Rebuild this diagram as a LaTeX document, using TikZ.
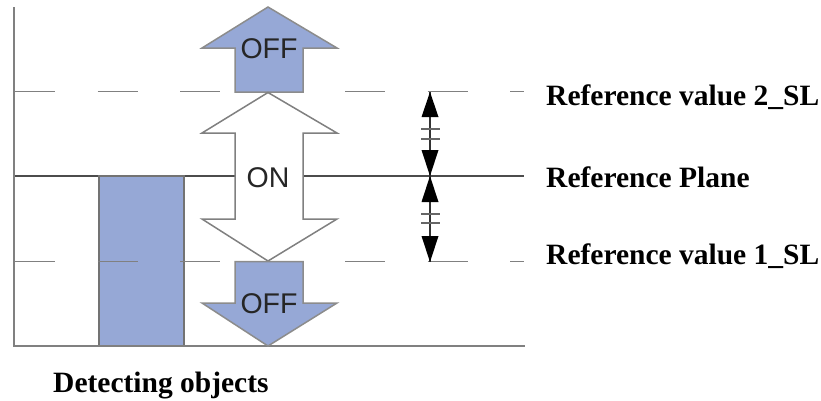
\documentclass[tikz,border=0pt]{standalone}
\usepackage{fontspec}
\setmainfont{Liberation Serif}
\newfontfamily\arialf{Liberation Sans}
\begin{document}
\begin{tikzpicture}[x=1pt,y=-1pt,
  axisline/.style={draw=black!50,line width=1.8pt},
  refline/.style={draw=black!70,line width=1.6pt},
  dashline/.style={draw=black!50,line width=1.8pt,dash pattern=on 40pt off 42.5pt},
  bluearrow/.style={fill=arrowblue,draw=black!45,line width=1.5pt,line join=miter},
  whitearrow/.style={fill=white,draw=black!50,line width=1.5pt,line join=miter},
  arrtext/.style={font=\arialf\fontsize{28.5}{31}\selectfont,text=black!85,inner sep=0pt},
  lbl/.style={font=\bfseries\fontsize{29.5}{34}\selectfont,anchor=base west,inner sep=0pt},
  dimhead/.style={fill=black,draw=none},
  dimtick/.style={draw=black!60,line width=1.5pt}]
\definecolor{arrowblue}{RGB}{150,168,214}
\useasboundingbox (0,0) rectangle (821,400);
% reference plane
\coordinate (rpL) at (14,176);
\coordinate (rpR) at (524,176);
\draw[refline] (rpL) -- (rpR);
% detecting object
\draw[fill=arrowblue,draw=black!55,line width=1.5pt] (99,176) rectangle (184,346);
% axes
\coordinate (axT) at (14,7);
\coordinate (axO) at (14,346);
\coordinate (axR) at (525,346);
\draw[axisline] (axT) -- (axO) -- (axR);
% dashed reference values
\coordinate (d2L) at (15,91.5);
\coordinate (d2R) at (524,91.5);
\coordinate (d1L) at (15,261.5);
\coordinate (d1R) at (524,261.5);
\draw[dashline] (d2L) -- (d2R);
\draw[dashline] (d1L) -- (d1R);
% arrows
\draw[bluearrow] (268,7) -- (337,48) -- (303,48) -- (303,92) -- (235,92) -- (235,48) -- (202,48) -- cycle;
\draw[whitearrow] (268,92.5) -- (337,133) -- (303,133) -- (303,219) -- (337,219) -- (268,261) -- (202,219) -- (235,219) -- (235,133) -- (202,133) -- cycle;
\draw[bluearrow] (235,261.5) -- (303,261.5) -- (303,303) -- (337,303) -- (268,346) -- (202,303) -- (235,303) -- cycle;
\node[arrtext] (offU) at (269,49) {OFF};
\node[arrtext] (on) at (268,178) {ON};
\node[arrtext] (offD) at (269,304) {OFF};
% dimension
\coordinate (dT) at (430,92);
\coordinate (dM) at (430,176);
\coordinate (dB) at (430,262);
\draw[black!80,line width=1.4pt] (dT) -- (dB);
\fill[dimhead] (430,92) -- (438.5,117) -- (421.5,117) -- cycle;
\fill[dimhead] (430,176) -- (438.5,150) -- (421.5,150) -- cycle;
\fill[dimhead] (430,176) -- (438.5,202) -- (421.5,202) -- cycle;
\fill[dimhead] (430,262) -- (438.5,236) -- (421.5,236) -- cycle;
\draw[dimtick] (421,129) -- (440,129);
\draw[dimtick] (421,139) -- (440,139);
\draw[dimtick] (421,214) -- (440,214);
\draw[dimtick] (421,223) -- (440,223);
% labels
\node[lbl] (l2) at (546,105) {Reference value 2\_SL};
\node[lbl] (lp) at (546,187.5) {Reference Plane};
\node[lbl] (l1) at (546,264.5) {Reference value 1\_SL};
\node[lbl] (ld) at (53,392) {Detecting objects};
\end{tikzpicture}
\end{document}
